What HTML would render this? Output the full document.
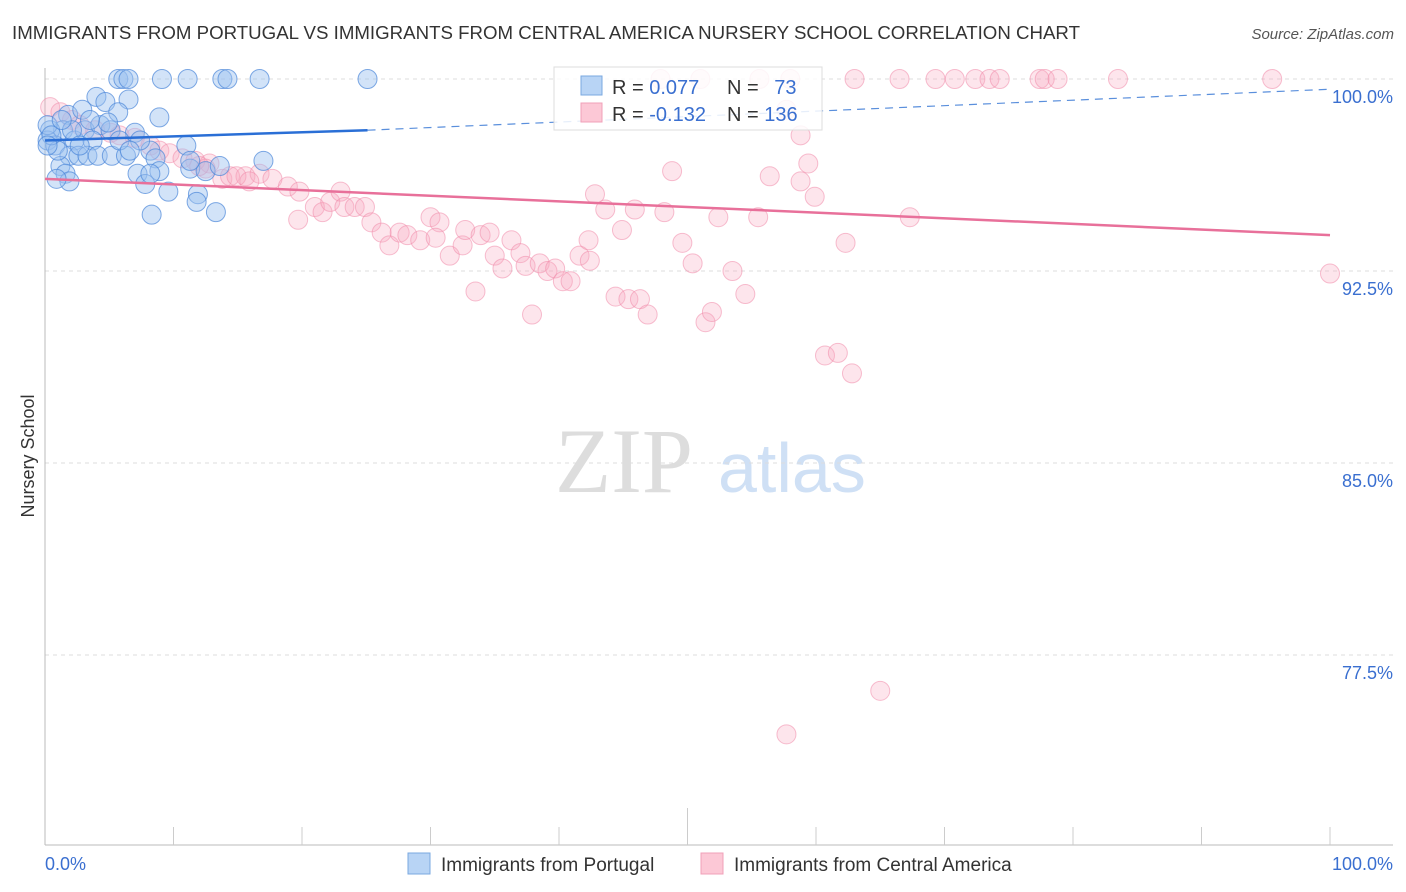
<!DOCTYPE html>
<html><head><meta charset="utf-8"><style>
body{margin:0;background:#fff;font-family:"Liberation Sans",sans-serif;}
#wrap{position:relative;width:1406px;height:892px;overflow:hidden;}
</style></head><body>
<div id="wrap">
<svg id="svg" width="1406" height="892">
<text x="12" y="39" font-size="18" fill="#333" textLength="1068" lengthAdjust="spacingAndGlyphs">IMMIGRANTS FROM PORTUGAL VS IMMIGRANTS FROM CENTRAL AMERICA NURSERY SCHOOL CORRELATION CHART</text>
<text x="1394" y="39" font-size="15" fill="#555" text-anchor="end" font-style="italic">Source: ZipAtlas.com</text>
<text x="555" y="492" font-size="92" fill="#ddd" font-family="Liberation Serif">ZIP</text>
<text x="718" y="492" font-size="70" fill="#cfe0f5">atlas</text>
<text x="34" y="456" font-size="18" fill="#333" text-anchor="middle" transform="rotate(-90 34 456)">Nursery School</text>
<g id="grid"></g><g id="axes"></g><g id="pink"></g><g id="blue"></g><g id="trend"></g>
<g>
<rect x="554" y="67" width="268" height="63" fill="#fff" fill-opacity="0.85" stroke="#ddd"/>
<rect x="581" y="76" width="21" height="19" fill="#b8d4f5" stroke="#7aa8e0"/>
<rect x="581" y="103" width="21" height="19" fill="#fcc8d6" stroke="#f0a0b8"/>
<text x="612" y="94" font-size="20" fill="#333">R = <tspan fill="#3a6fd0">0.077</tspan></text>
<text x="727" y="94" font-size="20" fill="#333">N = <tspan fill="#3a6fd0" dx="10">73</tspan></text>
<text x="612" y="121" font-size="20" fill="#333">R = <tspan fill="#3a6fd0">-0.132</tspan></text>
<text x="727" y="121" font-size="20" fill="#333">N = <tspan fill="#3a6fd0">136</tspan></text>
</g>
<g>
<rect x="408" y="853" width="22" height="21" fill="#b8d4f5" stroke="#7aa8e0"/>
<text x="441" y="871" font-size="19" fill="#333">Immigrants from Portugal</text>
<rect x="701" y="853" width="22" height="21" fill="#fcc8d6" stroke="#f0a0b8"/>
<text x="734" y="871" font-size="19" fill="#333">Immigrants from Central America</text>
</g>
</svg>
</div>
<script>
const yTicks=[100,92.5,85,77.5];
const yTickLabels=["100.0%","92.5%","85.0%","77.5%"];
const blueX=[5.7,6.1,6.5,9.1,11.1,13.8,14.2,16.7,25.1,4.0,6.5,4.7,8.9,1.8,2.9,1.4,0.4,0.2,0.8,2.3,3.1,4.3,5.1,5.7,7.0,4.9,3.7,1.9,2.6,3.3,4.1,5.2,6.3,1.2,1.6,1.9,7.2,8.2,8.6,8.9,7.8,9.6,11.0,11.3,11.9,11.8,12.5,13.3,8.3,17.0,13.6,1.0,0.2,0.5,3.5,2.1,7.4,1.3,2.7,5.8,11.3,0.2,0.9,8.2,6.6];
const blueY=[100,100,100,100,100,100,100,100,100,99.3,99.2,99.1,98.5,98.6,98.8,98.0,98.0,97.6,97.4,97.6,98.0,98.2,98.0,98.7,97.9,98.3,97.6,97.0,97.0,97.0,97.0,97.0,97.0,96.6,96.3,96.0,96.3,97.2,96.9,96.4,95.9,95.6,97.4,96.5,95.5,95.2,96.4,94.8,94.7,96.8,96.6,97.2,98.2,97.8,98.4,98.0,97.6,98.4,97.4,97.6,96.8,97.4,96.1,96.3,97.2];
const pinkX=[47.9,51.0,55.6,58.0,63.0,66.5,69.3,70.8,72.4,73.5,74.3,77.4,77.8,78.8,83.5,95.5,0.4,1.2,2.1,2.7,3.9,5.1,5.8,7.0,8.2,8.9,9.7,10.7,11.7,12.8,12.5,13.8,14.4,15.6,16.7,17.7,18.9,19.8,19.7,21.0,21.6,22.2,23.0,23.3,24.1,24.9,25.4,26.2,26.8,27.6,28.2,29.2,30.0,30.7,30.4,31.5,32.5,32.7,33.5,33.9,34.6,35.0,35.6,36.3,37.0,37.4,37.9,38.5,39.1,39.7,40.3,40.9,41.6,42.3,42.8,43.6,44.4,44.9,45.4,45.9,46.3,46.9,48.2,48.8,49.6,50.4,51.4,51.9,52.4,53.5,54.5,55.5,56.4,57.7,58.8,59.4,58.8,59.9,60.7,61.7,62.3,62.8,65.0,57.7,67.3,100,42.4,12.0,14.9,15.9];
const pinkY=[100,100,100,100,100,100,100,100,100,100,100,100,100,100,100,100,98.9,98.7,98.4,98.2,98.0,97.9,97.8,97.7,97.4,97.2,97.1,96.9,96.8,96.7,96.5,96.1,96.2,96.2,96.3,96.1,95.8,95.6,94.5,95.0,94.8,95.2,95.6,95.0,95.0,95.0,94.4,94.0,93.5,94.0,93.9,93.7,94.6,94.4,93.8,93.1,93.5,94.1,91.7,93.9,94.0,93.1,92.6,93.7,93.2,92.7,90.8,92.8,92.5,92.6,92.1,92.1,93.1,93.7,95.5,94.9,91.5,94.1,91.4,94.9,91.4,90.8,94.8,96.4,93.6,92.8,90.5,90.9,94.6,92.5,91.6,94.6,96.2,98.8,97.8,96.7,96.0,95.4,89.2,89.3,93.6,88.5,76.1,74.4,94.6,92.4,92.9,96.6,96.2,96.0];
const blueTrend=[[0,97.6],[25.1,98.0],[100,99.6]];
const pinkTrend=[[0,96.1],[100,93.9]];
const NS='http://www.w3.org/2000/svg';
const X=v=>45+v*12.85, Y=v=>79+(100-v)*25.6;
function mk(tag,attrs,parent){const e=document.createElementNS(NS,tag);for(const k in attrs)e.setAttribute(k,attrs[k]);document.getElementById(parent).appendChild(e);return e;}
yTicks.forEach((t,i)=>{
 const l=mk('line',{x1:45,x2:1393,y1:Y(t),y2:Y(t),stroke:'#ddd','stroke-dasharray':'4,4'},'grid');
 
 
 const tx=mk('text',{x:1393,y:Y(t)+24,'font-size':18,fill:'#3a6fd0','text-anchor':'end'},'grid');
 tx.textContent=yTickLabels[i];
 
 
});
let a=mk('line',{x1:45,x2:45,y1:68,y2:845,stroke:'#bbb'},'axes');


a=mk('line',{x1:45,x2:1393,y1:845,y2:845,stroke:'#bbb'},'axes');


for(let i=1;i<=10;i++){const t=mk('line',{x1:X(i*10),x2:X(i*10),y1:i==5?808:827,y2:845,stroke:'#ccc'},'axes');
 
 }
let xl=mk('text',{x:45,y:870,'font-size':18,fill:'#3a6fd0'},'axes');xl.textContent='0.0%';


xl=mk('text',{x:1393,y:870,'font-size':18,fill:'#3a6fd0','text-anchor':'end'},'axes');xl.textContent='100.0%';


pinkX.forEach((v,i)=>{const c=mk('circle',{cx:X(v),cy:Y(pinkY[i]),r:9.5,fill:'#f7a8c0','fill-opacity':0.3,stroke:'#f08aaa','stroke-opacity':0.55},'pink');
 
 });
blueX.forEach((v,i)=>{const c=mk('circle',{cx:X(v),cy:Y(blueY[i]),r:9.5,fill:'#9cc2f0','fill-opacity':0.45,stroke:'#4a86d8','stroke-opacity':0.7},'blue');
 
 });
let t=mk('line',{x1:X(blueTrend[0][0]),y1:Y(blueTrend[0][1]),x2:X(blueTrend[1][0]),y2:Y(blueTrend[1][1]),stroke:'#2a6fd6','stroke-width':2.5},'trend');


t=mk('line',{x1:X(blueTrend[1][0]),y1:Y(blueTrend[1][1]),x2:X(blueTrend[2][0]),y2:Y(blueTrend[2][1]),stroke:'#5a8fdc','stroke-width':1.2,'stroke-dasharray':'8,6'},'trend');


t=mk('line',{x1:X(pinkTrend[0][0]),y1:Y(pinkTrend[0][1]),x2:X(pinkTrend[1][0]),y2:Y(pinkTrend[1][1]),stroke:'#e8709a','stroke-width':2.5},'trend');


</script>
</body></html>
